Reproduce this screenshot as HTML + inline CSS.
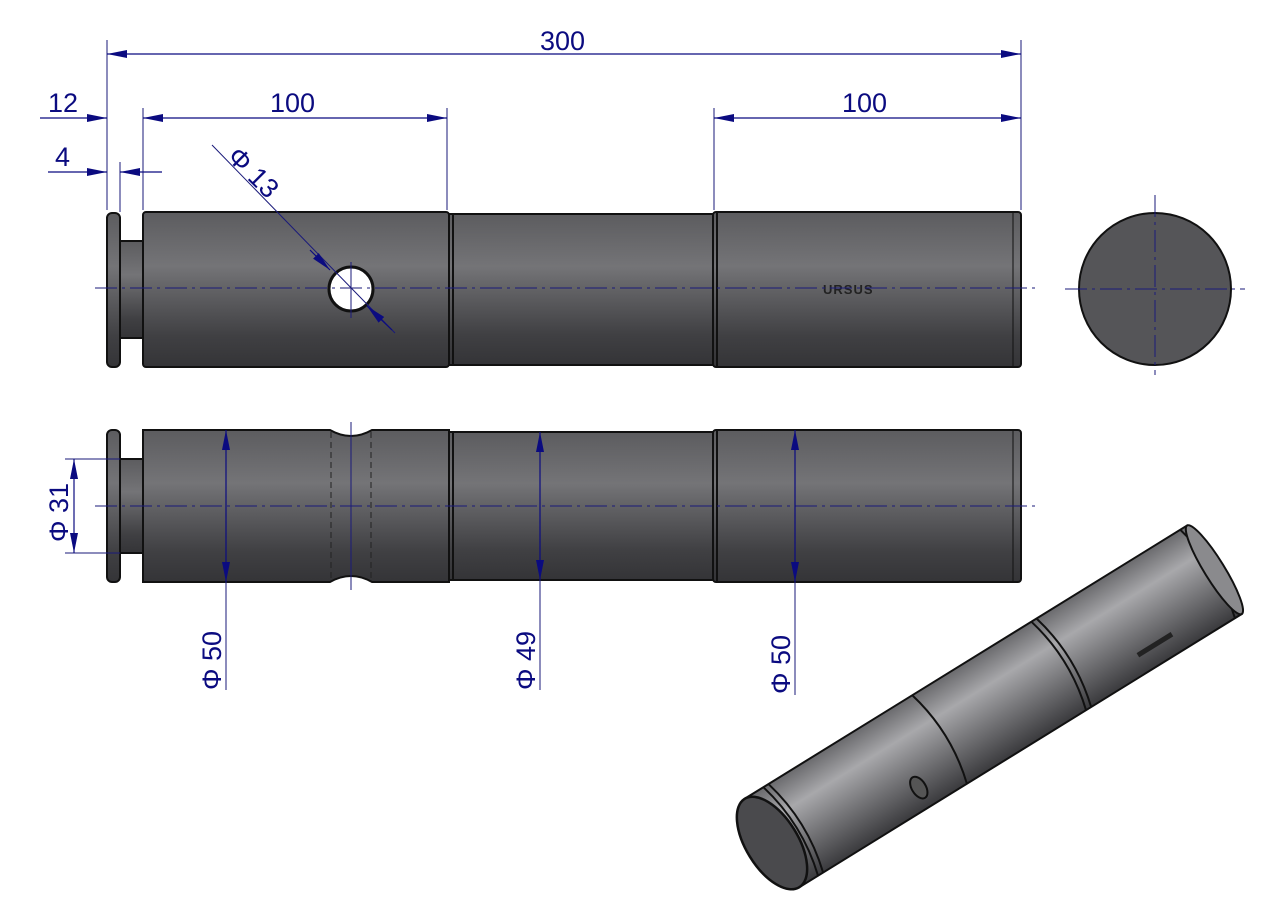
<!DOCTYPE html>
<html><head><meta charset="utf-8"><style>
html,body{margin:0;padding:0;background:#fff;}
svg{display:block;}
text{font-family:"Liberation Sans",sans-serif;fill:#0b0b80;font-size:27px;}
</style></head><body>
<svg width="1280" height="905" viewBox="0 0 1280 905" xmlns="http://www.w3.org/2000/svg">
<defs>
<linearGradient id="g" x1="0" y1="0" x2="0" y2="1">
<stop offset="0" stop-color="#5c5c5f"/><stop offset="0.35" stop-color="#747477"/><stop offset="0.5" stop-color="#626265"/><stop offset="0.8" stop-color="#404043"/><stop offset="1" stop-color="#343437"/>
</linearGradient>
<linearGradient id="gi" x1="0" y1="0" x2="0" y2="1">
<stop offset="0" stop-color="#6a6a6d"/><stop offset="0.3" stop-color="#a8a8ab"/><stop offset="0.6" stop-color="#78787b"/><stop offset="1" stop-color="#3a3a3d"/>
</linearGradient>
<marker id="a" viewBox="0 0 20 8" refX="20" refY="4" markerWidth="20" markerHeight="8" markerUnits="userSpaceOnUse" orient="auto-start-reverse"><path d="M0,0L20,4L0,8z" fill="#0b0b80"/></marker>
</defs>

<!-- top view -->
<g stroke="#111" stroke-width="2">
<rect x="107" y="213" width="13" height="154" rx="5" fill="url(#g)"/>
<rect x="120" y="241" width="23" height="97" fill="url(#g)"/>
<rect x="143" y="212" width="306" height="155" rx="3" fill="url(#g)"/>
<rect x="449" y="214" width="264" height="151" fill="url(#g)"/>
<rect x="713" y="212" width="308" height="155" rx="3" fill="url(#g)"/>
<line x1="453" y1="214" x2="453" y2="365"/><line x1="717" y1="212" x2="717" y2="367"/><line x1="1013" y1="212" x2="1013" y2="367" stroke-width="1"/>
<circle cx="351" cy="289" r="22" fill="#fff" stroke-width="3"/>
</g>
<text x="823" y="294" style="font-size:13px;font-weight:bold;fill:#222;letter-spacing:1px">URSUS</text>
<line x1="95" y1="288" x2="1035" y2="288" stroke="#1a1a7a" stroke-width="1" stroke-dasharray="22,5,3,5"/>
<line x1="351" y1="262" x2="351" y2="318" stroke="#1a1a7a" stroke-width="1"/>

<!-- end view -->
<circle cx="1155" cy="289" r="76" fill="#555558" stroke="#111" stroke-width="2"/>
<g stroke="#1a1a7a" stroke-width="1" stroke-dasharray="22,5,3,5"><line x1="1065" y1="289" x2="1245" y2="289"/><line x1="1155" y1="195" x2="1155" y2="375"/></g>

<!-- front view -->
<g stroke="#111" stroke-width="2">
<rect x="107" y="430" width="13" height="152" rx="5" fill="url(#g)"/>
<rect x="120" y="459" width="23" height="94" fill="url(#g)"/>
<path d="M143,430H330Q351,442 372,430H449V582H372Q351,570 330,582H143Z" fill="url(#g)"/>
<rect x="449" y="432" width="264" height="148" fill="url(#g)"/>
<rect x="713" y="430" width="308" height="152" rx="3" fill="url(#g)"/>
<line x1="453" y1="432" x2="453" y2="580"/><line x1="717" y1="430" x2="717" y2="582"/><line x1="1013" y1="430" x2="1013" y2="582" stroke-width="1"/>
</g>
<g stroke="#222" stroke-width="1" stroke-dasharray="6,4"><line x1="331" y1="432" x2="331" y2="580"/><line x1="371" y1="432" x2="371" y2="580"/></g>
<line x1="95" y1="506" x2="1035" y2="506" stroke="#1a1a7a" stroke-width="1" stroke-dasharray="22,5,3,5"/>
<line x1="351" y1="422" x2="351" y2="590" stroke="#1a1a7a" stroke-width="1"/>

<!-- iso view -->
<g transform="translate(772,843) rotate(-31.7)">
<rect x="0" y="-52" width="520" height="104" fill="url(#gi)" stroke="#111" stroke-width="2"/>
<path d="M197,-52 q14,52 0,104 M337,-52 q14,52 0,104 M343,-52 q14,52 0,104 M512,-52 q14,52 0,104 M22,-52 q14,52 0,104 M28,-52 q14,52 0,104" fill="none" stroke="#111" stroke-width="2"/>
<ellipse cx="520" cy="0" rx="10" ry="52" fill="#8a8a8d" stroke="#111" stroke-width="2"/>
<ellipse cx="0" cy="0" rx="26" ry="52" fill="#4a4a4d" stroke="#111" stroke-width="2.5"/>
<ellipse cx="154" cy="30" rx="7" ry="12" fill="#555" stroke="#111" stroke-width="2"/>
<rect x="410" y="30" width="40" height="5" fill="#222"/>
</g>

<!-- dimensions -->
<g stroke="#1a1a7a" stroke-width="1" fill="none">
<line x1="107" y1="40" x2="107" y2="210"/><line x1="1021" y1="40" x2="1021" y2="210"/>
<line x1="143" y1="108" x2="143" y2="210"/><line x1="447" y1="108" x2="447" y2="210"/>
<line x1="714" y1="108" x2="714" y2="210"/><line x1="120" y1="162" x2="120" y2="212"/>
<line x1="212" y1="145" x2="395" y2="333"/>
<line x1="65" y1="459" x2="120" y2="459"/><line x1="65" y1="553" x2="120" y2="553"/>
<line x1="226" y1="582" x2="226" y2="690"/><line x1="540" y1="580" x2="540" y2="690"/><line x1="795" y1="582" x2="795" y2="695"/>
</g>
<g stroke="#0b0b80" stroke-width="1.2" fill="none">
<line x1="107" y1="54" x2="1021" y2="54" marker-start="url(#a)" marker-end="url(#a)"/>
<line x1="143" y1="118" x2="447" y2="118" marker-start="url(#a)" marker-end="url(#a)"/>
<line x1="714" y1="118" x2="1021" y2="118" marker-start="url(#a)" marker-end="url(#a)"/>
<line x1="40" y1="118" x2="107" y2="118" marker-end="url(#a)"/>
<line x1="48" y1="172" x2="107" y2="172" marker-end="url(#a)"/>
<line x1="162" y1="172" x2="120" y2="172" marker-end="url(#a)"/>
<line x1="310" y1="250" x2="330" y2="270" marker-end="url(#a)"/>
<line x1="392" y1="330" x2="367" y2="306" marker-end="url(#a)"/>
<line x1="74" y1="459" x2="74" y2="553" marker-start="url(#a)" marker-end="url(#a)"/>
<line x1="226" y1="430" x2="226" y2="582" marker-start="url(#a)" marker-end="url(#a)"/>
<line x1="540" y1="432" x2="540" y2="580" marker-start="url(#a)" marker-end="url(#a)"/>
<line x1="795" y1="430" x2="795" y2="582" marker-start="url(#a)" marker-end="url(#a)"/>
</g>
<text x="540" y="50">300</text>
<text x="270" y="112">100</text>
<text x="842" y="112">100</text>
<text x="48" y="112">12</text>
<text x="55" y="166">4</text>
<text transform="translate(226,158) rotate(45)">Φ 13</text>
<text transform="translate(68,542) rotate(-90)">Φ 31</text>
<text transform="translate(221,690) rotate(-90)">Φ 50</text>
<text transform="translate(535,690) rotate(-90)">Φ 49</text>
<text transform="translate(790,694) rotate(-90)">Φ 50</text>
</svg>
</body></html>
